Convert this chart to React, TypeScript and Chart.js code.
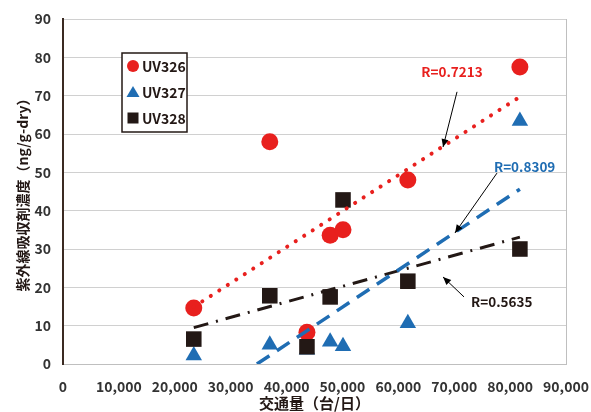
import React, { useEffect, useRef } from "react";
import { Chart, registerables } from "chart.js";
Chart.register(...registerables);

// Traffic volume (vehicles/day) of each site
const traffic = [23400, 37000, 43650, 47800, 50100, 61700, 81750];
// UV absorber concentrations (ng/g-dry)
const uv326 = [14.6, 58.0, 8.3, 33.6, 35.0, 48.0, 77.5];
const uv327 = [2.2, 5.0, 3.7, 5.8, 4.6, 10.6, 63.4];
const uv328 = [6.5, 17.8, 4.5, 17.5, 42.8, 21.6, 30.0];

// Trend lines (endpoints)
const trend326X = [23400, 81750];
const trend326Y = [14.9, 69.7];
const trend327X = [34700, 81750];
const trend327Y = [0, 45.6];
const trend328X = [23400, 81750];
const trend328Y = [9.5, 33.1];

const xTicks = [0, 10000, 20000, 30000, 40000, 50000, 60000, 70000, 80000, 90000];
const yTicks = [0, 10, 20, 30, 40, 50, 60, 70, 80, 90];

const seriesNames = ["UV326", "UV327", "UV328"];
const rLabels = ["R=0.7213", "R=0.8309", "R=0.5635"];
// label position [x, y] and arrow [x1, y1, x2, y2] in data units
const rLabelPos = [
  [69600, 76.2],
  [82600, 51.4],
  [78500, 16.2],
];
const rArrows = [
  [70500, 71.0, 68000, 56.6],
  [77650, 49.8, 70140, 34.2],
  [71750, 17.5, 68000, 22.7],
];

const RED = "#e8201e";
const BLUE = "#1f6db3";
const BLACK = "#231815";
const FONT = "'Noto Sans CJK JP', 'Noto Sans', sans-serif";

const pair = (xs: number[], ys: number[]) => xs.map((x, i) => ({ x, y: ys[i] }));

const overlayPlugin = {
  id: "overlay",
  afterDatasetsDraw(chart: any) {
    const { ctx, chartArea, scales } = chart;
    const xs = scales.x;
    const ys = scales.y;
    ctx.save();
    // right border of plot
    ctx.strokeStyle = "#bfbfbf";
    ctx.lineWidth = 1;
    ctx.beginPath();
    ctx.moveTo(chartArea.right + 0.5, chartArea.top);
    ctx.lineTo(chartArea.right + 0.5, chartArea.bottom);
    ctx.stroke();

    // R annotations
    const colors = [RED, BLUE, BLACK];
    rLabels.forEach((t, i) => {
      const [ax1, ay1, ax2, ay2] = rArrows[i];
      const x1 = xs.getPixelForValue(ax1);
      const y1 = ys.getPixelForValue(ay1);
      const x2 = xs.getPixelForValue(ax2);
      const y2 = ys.getPixelForValue(ay2);
      ctx.strokeStyle = "#000";
      ctx.fillStyle = "#000";
      ctx.lineWidth = 1;
      ctx.beginPath();
      ctx.moveTo(x1, y1);
      ctx.lineTo(x2, y2);
      ctx.stroke();
      const ang = Math.atan2(y2 - y1, x2 - x1);
      const hl = 8;
      const hw = 3.5;
      ctx.beginPath();
      ctx.moveTo(x2, y2);
      ctx.lineTo(x2 - hl * Math.cos(ang) + hw * Math.sin(ang), y2 - hl * Math.sin(ang) - hw * Math.cos(ang));
      ctx.lineTo(x2 - hl * Math.cos(ang) - hw * Math.sin(ang), y2 - hl * Math.sin(ang) + hw * Math.cos(ang));
      ctx.closePath();
      ctx.fill();

      const [lx, ly] = rLabelPos[i];
      ctx.fillStyle = colors[i];
      ctx.font = `bold 13.5px ${FONT}`;
      ctx.textAlign = "center";
      ctx.textBaseline = "middle";
      ctx.fillText(t, xs.getPixelForValue(lx), ys.getPixelForValue(ly));
    });

    // legend box
    const bx = chartArea.left + 59;
    const by = chartArea.top + 34;
    const bw = 65;
    const bh = 79;
    ctx.fillStyle = "#fff";
    ctx.fillRect(bx, by, bw, bh);
    ctx.strokeStyle = "#231815";
    ctx.lineWidth = 1.5;
    ctx.strokeRect(bx, by, bw, bh);
    const mx = bx + 11;
    const rows = [by + 13, by + 39, by + 65];
    // circle
    ctx.fillStyle = RED;
    ctx.beginPath();
    ctx.arc(mx, rows[0], 6, 0, Math.PI * 2);
    ctx.fill();
    // triangle
    ctx.fillStyle = BLUE;
    ctx.beginPath();
    ctx.moveTo(mx, rows[1] - 6);
    ctx.lineTo(mx + 6.5, rows[1] + 5);
    ctx.lineTo(mx - 6.5, rows[1] + 5);
    ctx.closePath();
    ctx.fill();
    // square
    ctx.fillStyle = BLACK;
    ctx.fillRect(mx - 5.5, rows[2] - 5.5, 11, 11);
    ctx.fillStyle = "#231815";
    ctx.font = `bold 14px ${FONT}`;
    ctx.textAlign = "left";
    ctx.textBaseline = "middle";
    seriesNames.forEach((n, i) => ctx.fillText(n, mx + 9, rows[i] + 1));
    ctx.restore();
  },
};

export default function App() {
  const ref = useRef<HTMLCanvasElement | null>(null);
  useEffect(() => {
    document.body.style.margin = "0";
    const chart = new Chart(ref.current as HTMLCanvasElement, {
      type: "scatter",
      data: {
        datasets: [
          {
            label: "trend326",
            data: pair(trend326X, trend326Y),
            showLine: true,
            borderColor: RED,
            borderWidth: 4,
            borderDash: [0.1, 10],
            borderCapStyle: "round",
            pointRadius: 0,
          },
          {
            label: "trend327",
            data: pair(trend327X, trend327Y),
            showLine: true,
            borderColor: BLUE,
            borderWidth: 3.5,
            borderDash: [15, 9],
            pointRadius: 0,
          },
          {
            label: "trend328",
            data: pair(trend328X, trend328Y),
            showLine: true,
            borderColor: BLACK,
            borderWidth: 3,
            borderDash: [15, 8, 2, 8],
            pointRadius: 0,
          },
          {
            label: "UV328",
            data: pair(traffic, uv328),
            pointStyle: "rect",
            pointRadius: 11,
            backgroundColor: BLACK,
            borderColor: BLACK,
            borderWidth: 0,
          },
          {
            label: "UV327",
            data: pair(traffic, uv327),
            pointStyle: "triangle",
            pointRadius: 9.5,
            backgroundColor: BLUE,
            borderColor: BLUE,
            borderWidth: 0,
          },
          {
            label: "UV326",
            data: pair(traffic, uv326),
            pointStyle: "circle",
            pointRadius: 8.5,
            backgroundColor: RED,
            borderColor: RED,
            borderWidth: 0,
          },
        ],
      } as any,
      options: {
        animation: false,
        responsive: false,
        layout: { padding: { left: 0, right: 25, top: 19, bottom: 0 } },
        plugins: { legend: { display: false }, tooltip: { enabled: false } },
        scales: {
          x: {
            type: "linear",
            min: 0,
            max: 90000,
            afterBuildTicks: (s: any) => {
              s.ticks = xTicks.map((v) => ({ value: v }));
            },
            afterFit: (s: any) => {
              s.height = 48;
              s.paddingLeft = 0;
              s.paddingRight = 0;
            },
            grid: { display: false },
            border: { color: "#bfbfbf", width: 1 },
            ticks: {
              color: "#333333",
              font: { family: FONT, size: 14, weight: "bold" },
              padding: 6,
              maxRotation: 0,
              autoSkip: false,
              callback: (v: any) => Number(v).toLocaleString("en-US"),
            },
            title: {
              display: true,
              text: "交通量（台/日）",
              color: "#231815",
              font: { family: FONT, size: 15, weight: "bold" },
              padding: { top: 0, bottom: 0 },
            },
          },
          y: {
            type: "linear",
            min: 0,
            max: 90,
            afterBuildTicks: (s: any) => {
              s.ticks = yTicks.map((v) => ({ value: v }));
            },
            afterFit: (s: any) => {
              s.width = 63;
              s.paddingTop = 0;
              s.paddingBottom = 0;
            },
            grid: { color: "#d0d0d0", lineWidth: 1, drawTicks: false },
            border: { color: "#3b2a22", width: 2 },
            ticks: {
              color: "#333333",
              font: { family: FONT, size: 14, weight: "bold" },
              padding: 12,
            },
            title: {
              display: true,
              text: "紫外線吸収剤濃度（ng/g-dry）",
              color: "#231815",
              font: { family: FONT, size: 14, weight: "bold" },
              padding: { top: 14, bottom: 0 },
            },
          },
        },
      } as any,
      plugins: [overlayPlugin],
    });
    return () => chart.destroy();
  }, []);
  return (
    <div style={{ width: 591, height: 412 }}>
      <canvas ref={ref} width={591} height={412} style={{ display: "block" }} />
    </div>
  );
}
